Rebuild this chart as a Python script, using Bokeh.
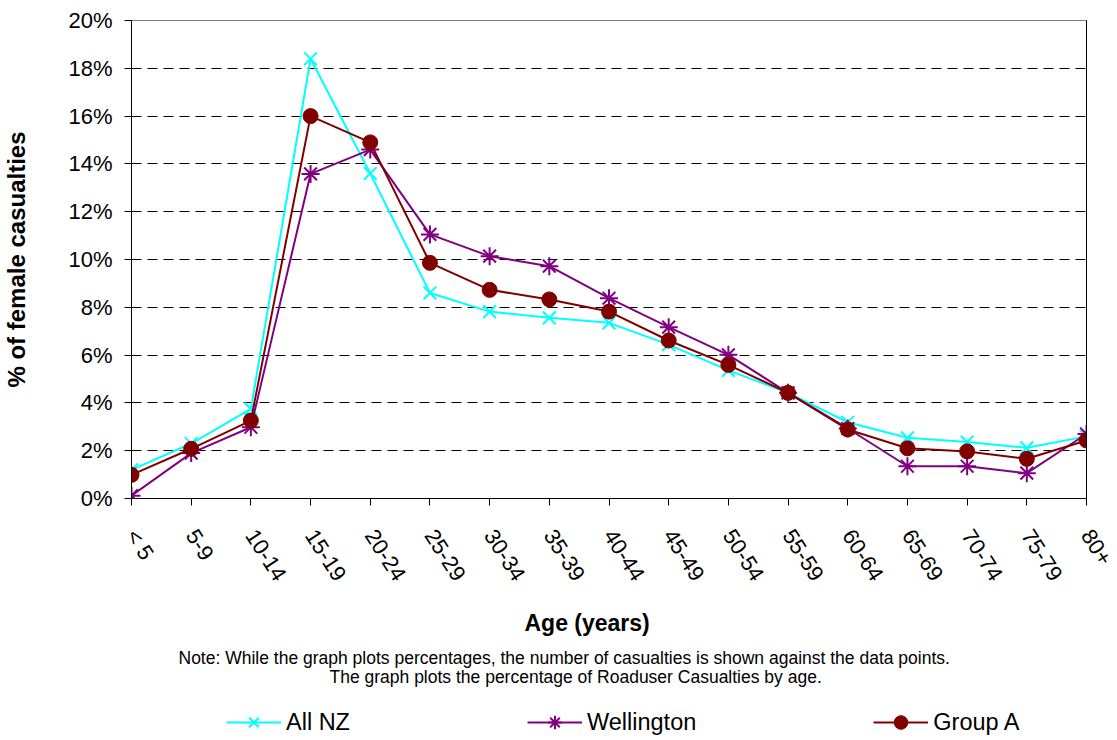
import math
from bokeh.plotting import figure
from bokeh.layouts import column
from bokeh.models import (Range1d, FixedTicker, PrintfTickFormatter, Legend,
                          LegendItem, LinearAxis, Title)
from bokeh.embed import file_html
from bokeh.resources import INLINE

ages = ["< 5", "5-9", "10-14", "15-19", "20-24", "25-29", "30-34", "35-39", "40-44",
        "45-49", "50-54", "55-59", "60-64", "65-69", "70-74", "75-79", "80+"]
all_nz = [1.2, 2.3, 3.75, 18.4, 13.6, 8.6, 7.82, 7.56, 7.35, 6.44, 5.36, 4.42, 3.19,
          2.54, 2.36, 2.12, 2.6]
wellington = [0.12, 1.9, 2.98, 13.58, 14.6, 11.05, 10.14, 9.72, 8.38, 7.17, 6.01, 4.42,
              2.93, 1.35, 1.35, 1.06, 2.7]
group_a = [0.99, 2.08, 3.26, 16.0, 14.9, 9.86, 8.73, 8.33, 7.82, 6.61, 5.59, 4.42, 2.89,
           2.1, 1.97, 1.66, 2.43]
series_names = ["All NZ", "Wellington", "Group A"]
y_ticks = [0, 2, 4, 6, 8, 10, 12, 14, 16, 18, 20]

FONT = "Liberation Sans"
CYAN = "#00FFFF"
PURPLE = "#800080"
DRED = "#800000"
xs = list(range(len(ages)))

p = figure(frame_width=955, frame_height=478, output_backend="svg", toolbar_location=None,
           x_range=Range1d(0, len(ages) - 1), y_range=Range1d(0, 20),
           min_border_left=130, min_border_right=32, min_border_top=20,
           min_border_bottom=200)
p.background_fill_color = "white"
p.border_fill_color = "white"
p.outline_line_color = "#808080"
p.outline_line_width = 1

# axes
xa = p.xaxis[0]
xa.ticker = FixedTicker(ticks=xs)
xa.major_label_overrides = {i: a for i, a in enumerate(ages)}
xa.major_label_orientation = -1.0
xa.major_label_text_font = FONT
xa.major_label_text_font_size = "22px"
xa.major_label_text_color = "black"
xa.major_tick_out = 7
xa.major_tick_in = 0
xa.minor_tick_out = 0
xa.minor_tick_in = 0
xa.axis_line_color = "black"
xa.major_tick_line_color = "black"
xa.major_label_standoff = 26

ya = p.yaxis[0]
ya.ticker = FixedTicker(ticks=y_ticks)
ya.formatter = PrintfTickFormatter(format="%d%%")
ya.major_label_text_font = FONT
ya.major_label_text_font_size = "22px"
ya.major_label_text_color = "black"
ya.major_tick_out = 7
ya.major_tick_in = 0
ya.minor_tick_out = 0
ya.minor_tick_in = 0
ya.axis_line_color = "black"
ya.major_tick_line_color = "black"
ya.major_label_standoff = 12
ya.axis_label = "% of female casualties"
ya.axis_label_text_font = FONT
ya.axis_label_text_font_style = "bold"
ya.axis_label_text_font_size = "24px"
ya.axis_label_text_color = "black"
ya.axis_label_standoff = 35

right_axis = LinearAxis(ticker=FixedTicker(ticks=[]), major_tick_out=0, major_tick_in=0,
                        minor_tick_out=0, minor_tick_in=0, major_label_text_font_size="0px",
                        axis_line_color="black")
p.add_layout(right_axis, "right")

p.xgrid.grid_line_color = None
p.ygrid.ticker = FixedTicker(ticks=y_ticks[1:])
p.ygrid.grid_line_color = "black"
p.ygrid.grid_line_dash = "10 6"
p.ygrid.grid_line_width = 1

# series
p.line(xs, all_nz, line_color=CYAN, line_width=2)
p.scatter(xs, all_nz, marker="x", size=18, line_color=CYAN, line_width=2)
p.line(xs, wellington, line_color=PURPLE, line_width=2)
p.scatter(xs, wellington, marker="asterisk", size=18, line_color=PURPLE, line_width=2)
p.line(xs, group_a, line_color=DRED, line_width=2)
p.scatter(xs, group_a, marker="circle", size=15, fill_color=DRED, line_color=DRED,
          line_width=1)

# bottom texts as titles stacked below the x axis
p.add_layout(Title(text="Age (years)", align="left", offset=393, standoff=25,
                   text_font=FONT, text_font_style="bold", text_font_size="23px",
                   text_color="black"), "below")
p.add_layout(Title(text="Note: While the graph plots percentages, the number of casualties is shown against the  data points.",
                   align="left", offset=47, standoff=-6,
                   text_font=FONT, text_font_style="normal", text_font_size="17.5px",
                   text_color="black"), "below")
p.add_layout(Title(text="The graph plots the percentage of Roaduser Casualties by age.",
                   align="left", offset=198, standoff=0,
                   text_font=FONT, text_font_style="normal", text_font_size="17.5px",
                   text_color="black"), "below")

# legend strip below the chart (frame is aligned with the chart frame by the column)
p2 = figure(width=1117, height=42, output_backend="svg", toolbar_location=None,
            x_range=Range1d(0, 1), y_range=Range1d(0, 1), x_axis_type=None,
            y_axis_type=None, min_border=0)
p2.outline_line_color = None
p2.background_fill_color = "white"
p2.border_fill_color = "white"
p2.grid.grid_line_color = None

NAN = [float("nan")]
k1 = p2.line(NAN, NAN, line_color=CYAN, line_width=2)
m1 = p2.scatter(NAN, NAN, marker="x", size=17, line_color=CYAN, line_width=2)
k2 = p2.line(NAN, NAN, line_color=PURPLE, line_width=2)
m2 = p2.scatter(NAN, NAN, marker="asterisk", size=17, line_color=PURPLE, line_width=2)
k3 = p2.line(NAN, NAN, line_color=DRED, line_width=2)
m3 = p2.scatter(NAN, NAN, marker="circle", size=15, fill_color=DRED, line_color=DRED,
                line_width=1)

lg = Legend(items=[LegendItem(label=series_names[0], renderers=[k1, m1]),
                   LegendItem(label=series_names[1], renderers=[k2, m2]),
                   LegendItem(label=series_names[2], renderers=[k3, m3])],
            location=(95, 1), orientation="horizontal", padding=0, margin=0, spacing=177,
            border_line_color=None, background_fill_alpha=0, glyph_width=55,
            glyph_height=34, label_standoff=5, label_text_font=FONT,
            label_text_font_size="23.5px", label_text_color="black", label_height=24)
p2.add_layout(lg, "center")

open("out.html", "w").write(file_html(column(p, p2), INLINE))
